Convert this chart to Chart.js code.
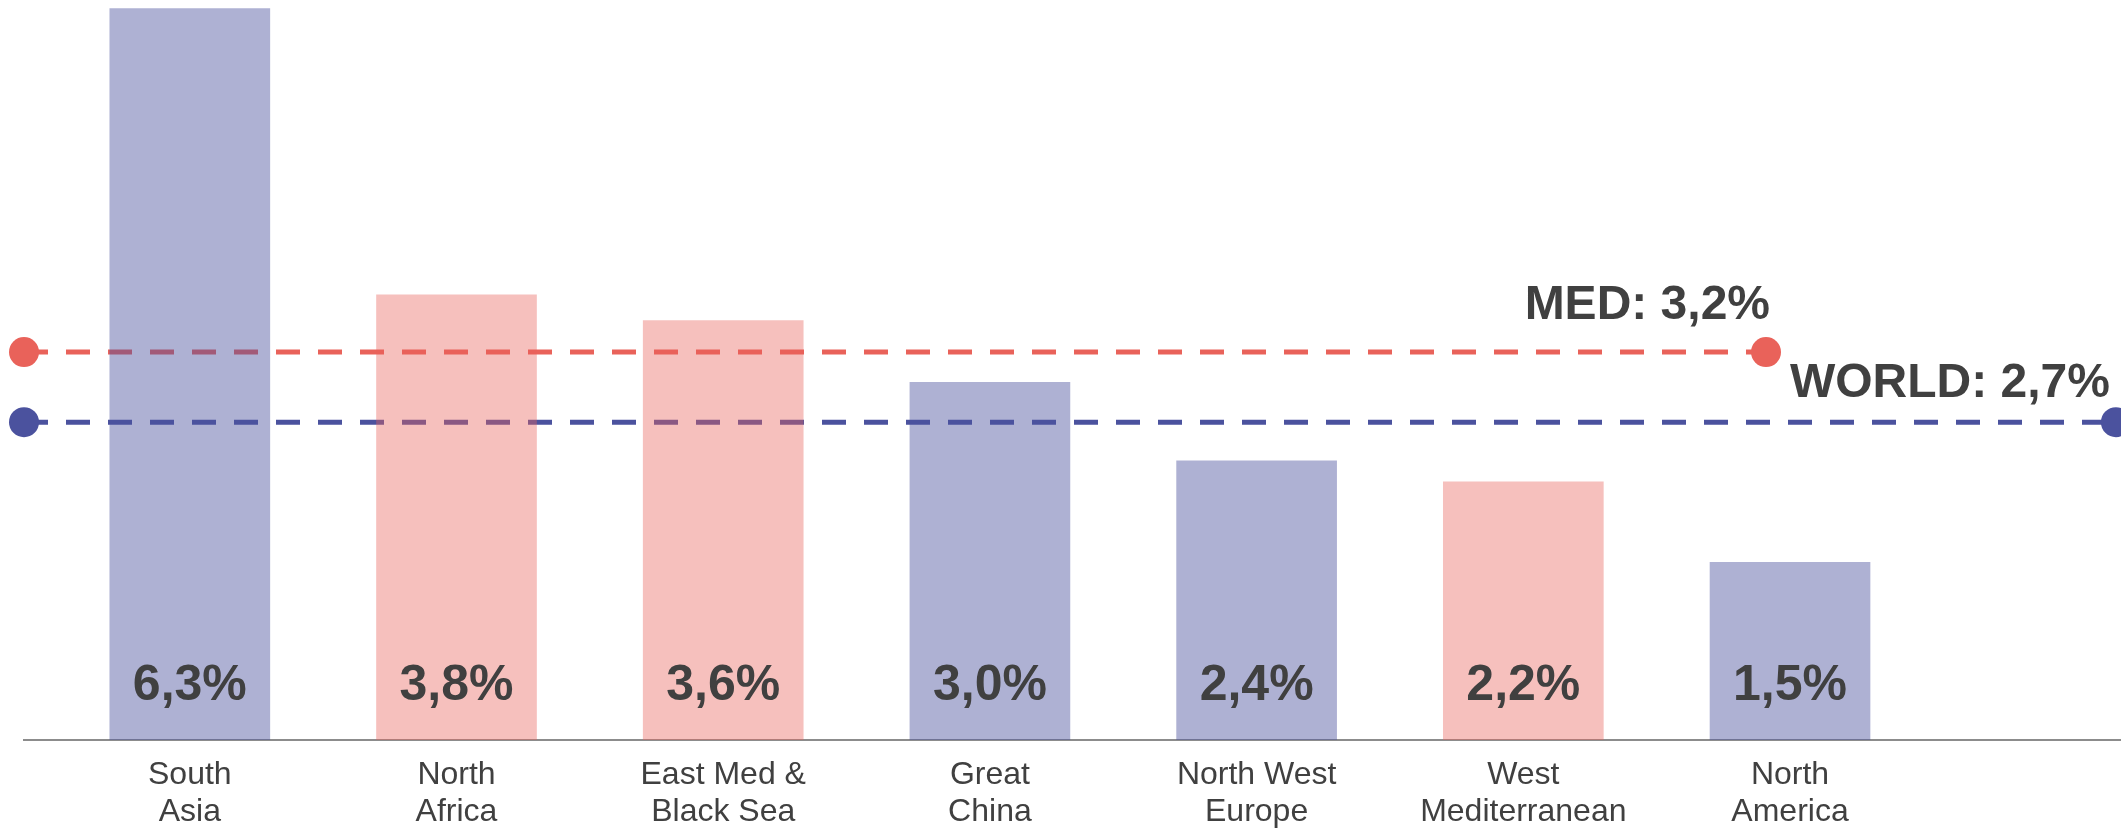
<!DOCTYPE html>
<html>
<head>
<meta charset="utf-8">
<script src="https://cdn.jsdelivr.net/npm/chart.js@4.4.1/dist/chart.umd.min.js"></script>
<style>
  html, body { margin: 0; padding: 0; background: #ffffff; }
  #wrap { width: 2121px; height: 829px; position: relative; }
</style>
</head>
<body>
<div id="wrap"><canvas id="c" width="2121" height="829"></canvas></div>
<script>
// ---- data ----
const categories = [
  ['South', 'Asia'],
  ['North', 'Africa'],
  ['East Med &', 'Black Sea'],
  ['Great', 'China'],
  ['North West', 'Europe'],
  ['West', 'Mediterranean'],
  ['North', 'America']
];
const growth = [6.26, 3.81, 3.59, 3.06, 2.39, 2.21, 1.52];
const growthLabels = ['6,3%', '3,8%', '3,6%', '3,0%', '2,4%', '2,2%', '1,5%'];
const group = ['world', 'med', 'med', 'world', 'world', 'med', 'world'];
const medAverage = 3.32;
const worldAverage = 2.72;
const medLabel = 'MED: 3,2%';
const worldLabel = 'WORLD: 2,7%';

// ---- layout / style ----
const BLUE = '#4B529E';
const RED = '#E9625A';
const BLUE_BAR = 'rgba(75,82,158,0.45)';
const RED_BAR = 'rgba(233,98,90,0.40)';
const TEXT = '#404040';
const X_MIN = -0.6217, X_MAX = 7.241;
const MED_END = 5.91, WORLD_END = 7.222;

const barData = growth.map((v, i) => ({ x: i, y: v }));

const labelPlugin = {
  id: 'labels',
  afterDatasetsDraw(chart) {
    const ctx = chart.ctx;
    const yScale = chart.scales.y;
    ctx.save();
    ctx.fillStyle = TEXT;
    ctx.font = 'bold 50px "Liberation Sans", Arial, sans-serif';
    ctx.textAlign = 'center';
    ctx.textBaseline = 'alphabetic';
    const barMeta = chart.getDatasetMeta(0);
    barMeta.data.forEach((el, i) => {
      ctx.fillText(growthLabels[i], el.x, yScale.getPixelForValue(0) - 40);
    });
    ctx.font = 'bold 48px "Liberation Sans", Arial, sans-serif';
    ctx.textAlign = 'right';
    const medMeta = chart.getDatasetMeta(1);
    const mp = medMeta.data[medMeta.data.length - 1];
    ctx.fillText(medLabel, mp.x + 4, mp.y - 33);
    const wMeta = chart.getDatasetMeta(2);
    const wp = wMeta.data[wMeta.data.length - 1];
    ctx.fillText(worldLabel, wp.x - 6, wp.y - 25);
    ctx.restore();
  }
};

new Chart(document.getElementById('c'), {
  type: 'bar',
  data: {
    datasets: [
      {
        type: 'bar',
        data: barData,
        backgroundColor: group.map(g => g === 'med' ? RED_BAR : BLUE_BAR),
        borderWidth: 0,
        barThickness: 160,
        order: 0
      },
      {
        type: 'line',
        data: [{ x: X_MIN, y: medAverage }, { x: MED_END, y: medAverage }],
        borderColor: RED,
        backgroundColor: RED,
        borderWidth: 5,
        borderDash: [24, 18],
        pointRadius: 15,
        pointBorderWidth: 0,
        pointBackgroundColor: RED,
        fill: false,
        clip: false,
        order: 1
      },
      {
        type: 'line',
        data: [{ x: X_MIN, y: worldAverage }, { x: WORLD_END, y: worldAverage }],
        borderColor: BLUE,
        backgroundColor: BLUE,
        borderWidth: 5,
        borderDash: [24, 18],
        pointRadius: 15,
        pointBorderWidth: 0,
        pointBackgroundColor: BLUE,
        fill: false,
        clip: false,
        order: 2
      }
    ]
  },
  options: {
    responsive: false,
    animation: false,
    devicePixelRatio: 1,
    layout: { autoPadding: false, padding: { left: 24, right: 0, top: 0, bottom: 0 } },
    plugins: { legend: { display: false }, tooltip: { enabled: false } },
    scales: {
      x: {
        type: 'linear',
        offset: false,
        min: X_MIN,
        max: X_MAX,
        grid: { display: false, drawTicks: false, offset: false },
        border: { display: true, color: '#8c8c8c', width: 2 },
        afterBuildTicks: s => { s.ticks = categories.map((_, i) => ({ value: i })); },
        afterFit: s => { s.height = 89; },
        ticks: {
          autoSkip: false,
          maxRotation: 0,
          minRotation: 0,
          includeBounds: false,
          padding: 16,
          color: TEXT,
          font: { family: '"Liberation Sans", Arial, sans-serif', size: 32, lineHeight: 1.17 },
          callback: v => categories[v] || ''
        }
      },
      y: {
        display: false,
        min: 0,
        max: 6.333
      }
    }
  },
  plugins: [labelPlugin]
});
</script>
</body>
</html>
